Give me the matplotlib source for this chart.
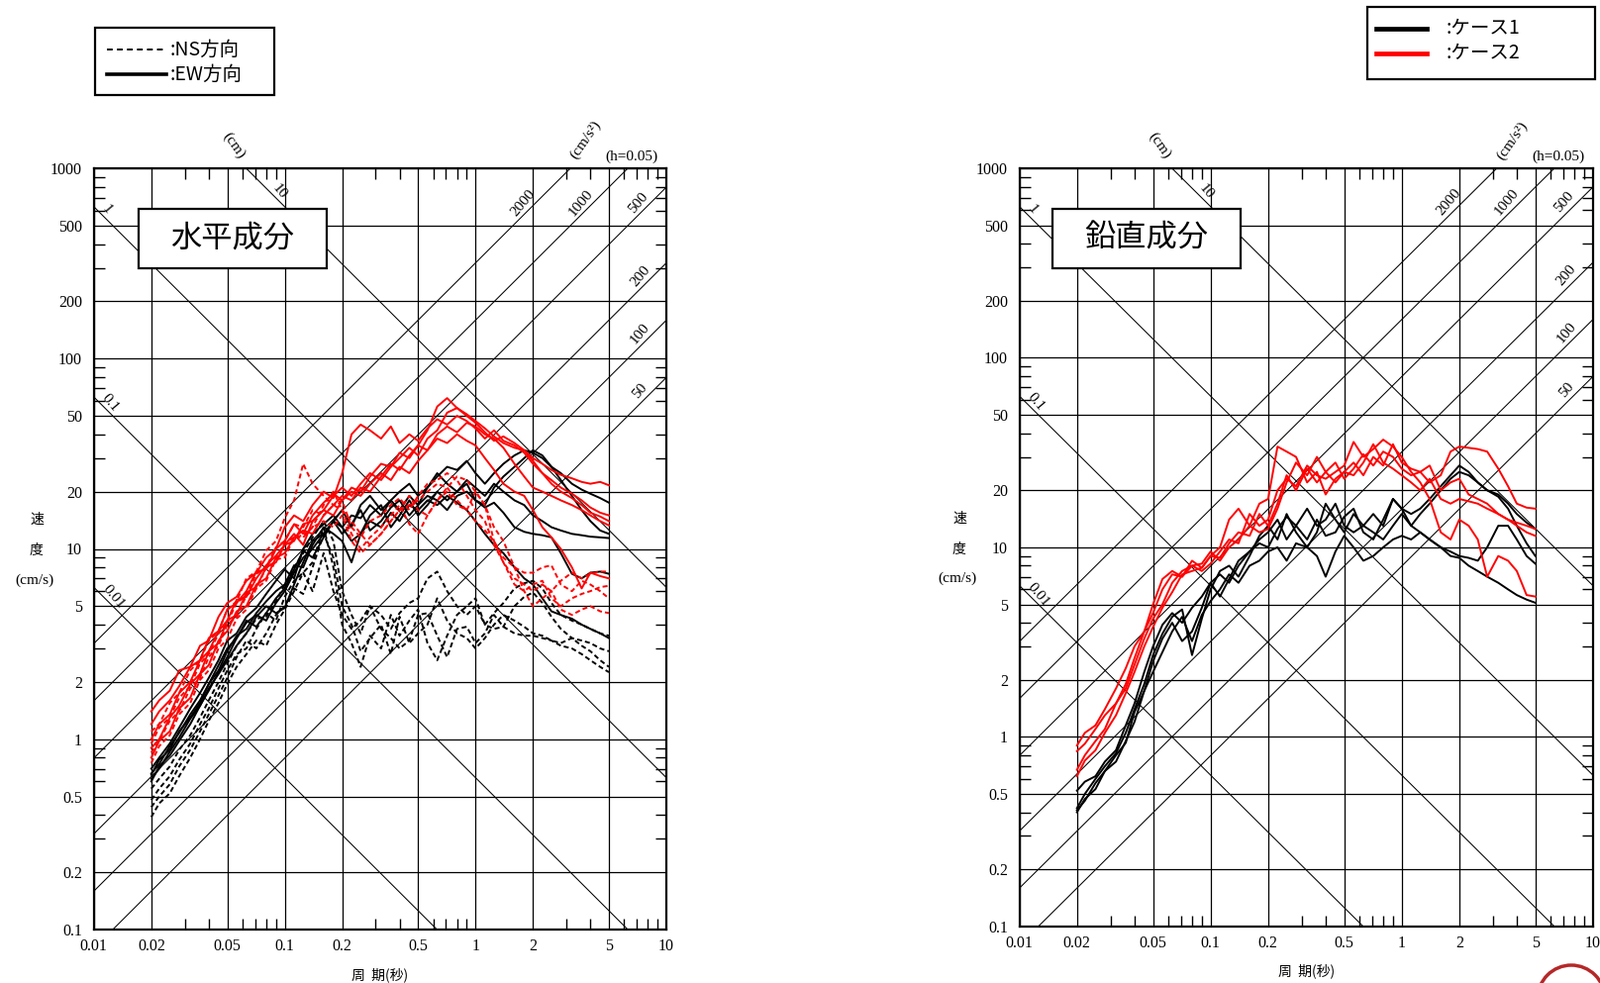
import numpy as np
import matplotlib.pyplot as plt
from matplotlib.patches import Rectangle, Ellipse
from matplotlib.lines import Line2D
from matplotlib.ticker import NullFormatter

plt.rcParams['font.family'] = ['Liberation Serif', 'Noto Sans CJK JP']
SANS = ['Noto Sans CJK JP', 'DejaVu Sans']

# periods (s)
periods = [0.02, 0.022, 0.025, 0.028, 0.032, 0.036, 0.04, 0.045, 0.05, 0.056,
           0.063, 0.071, 0.08, 0.09, 0.1, 0.112, 0.125, 0.14, 0.16, 0.18,
           0.2, 0.224, 0.25, 0.28, 0.32, 0.36, 0.4, 0.45, 0.5, 0.56,
           0.63, 0.71, 0.8, 0.9, 1.0, 1.12, 1.25, 1.4, 1.6, 1.8,
           2.0, 2.24, 2.5, 2.8, 3.2, 3.6, 4.0, 4.5, 5.0]

# 水平成分 ケース2 EW (red solid)
h_case2_ew = [
    [1.40, 1.60, 1.80, 2.30, 2.40, 3.10, 3.30, 4.40, 5.20, 5.60,
     6.80, 7.50, 9.00, 10.0, 13.0, 15.0, 14.0, 17.0, 20.0, 18.5,
     25.0, 40.0, 45.0, 42.0, 38.0, 44.0, 36.0, 40.0, 37.0, 43.0,
     48.0, 45.0, 50.0, 47.0, 43.0, 38.0, 42.0, 37.0, 35.0, 32.0,
     28.0, 25.0, 22.0, 20.0, 18.5, 17.0, 15.5, 14.8, 14.0],
    [1.20, 1.40, 1.60, 1.90, 2.40, 2.60, 3.40, 3.70, 4.80, 5.20,
     6.00, 7.60, 7.80, 10.0, 11.0, 13.5, 12.0, 15.0, 17.5, 19.5,
     18.0, 21.0, 20.0, 24.0, 28.0, 27.0, 32.0, 30.0, 35.0, 42.0,
     56.0, 62.0, 55.0, 51.0, 47.0, 43.0, 39.0, 36.0, 34.0, 33.0,
     30.0, 28.0, 26.0, 24.5, 23.5, 22.5, 22.0, 22.5, 21.6],
    [1.00, 1.20, 1.35, 1.75, 2.00, 2.60, 2.90, 3.70, 4.20, 5.40,
     5.60, 7.00, 8.20, 9.20, 10.5, 11.0, 13.5, 14.0, 16.0, 19.0,
     21.0, 19.0, 22.0, 25.0, 23.0, 27.0, 30.0, 34.0, 31.0, 38.0,
     42.0, 52.0, 55.0, 50.0, 46.0, 41.0, 37.0, 39.0, 36.0, 33.0,
     29.0, 25.0, 23.0, 21.0, 19.5, 18.0, 16.5, 15.5, 15.0],
    [0.90, 1.00, 1.30, 1.50, 1.95, 2.20, 2.90, 3.20, 4.20, 4.50,
     5.90, 6.30, 8.00, 8.50, 10.5, 12.0, 10.5, 14.0, 16.0, 15.0,
     18.0, 20.0, 19.0, 22.0, 25.0, 23.0, 27.0, 25.0, 29.0, 33.0,
     38.0, 36.0, 40.0, 37.0, 35.0, 30.0, 26.0, 22.0, 20.0, 19.0,
     16.0, 13.0, 11.5, 10.0, 8.0, 6.2, 7.5, 7.2, 7.0],
    [0.80, 0.98, 1.10, 1.45, 1.65, 2.20, 2.45, 3.30, 3.70, 4.70,
     5.00, 6.50, 7.00, 9.00, 9.50, 11.5, 12.5, 12.0, 15.0, 17.0,
     19.0, 18.0, 21.0, 20.0, 24.0, 28.0, 26.0, 31.0, 35.0, 33.0,
     40.0, 44.0, 41.0, 46.0, 44.0, 40.0, 38.0, 34.0, 28.0, 24.0,
     21.0, 20.0, 19.0, 18.0, 17.0, 16.0, 15.0, 14.0, 13.3],
]

# 水平成分 ケース2 NS (red dashed)
h_case2_ns = [
    [1.10, 1.20, 1.55, 1.75, 2.30, 2.60, 3.30, 3.70, 4.80, 5.30,
     7.00, 7.60, 9.80, 11.0, 14.5, 18.0, 28.0, 22.0, 19.0, 17.0,
     18.0, 13.0, 11.5, 14.0, 15.0, 17.0, 18.5, 16.0, 19.0, 22.0,
     23.0, 25.0, 23.0, 19.0, 16.0, 14.0, 10.5, 8.5, 7.0, 6.5,
     6.0, 6.5, 6.0, 6.8, 7.5, 7.0, 7.4, 7.6, 7.6],
    [0.95, 1.15, 1.30, 1.65, 1.90, 2.50, 2.80, 3.60, 4.10, 5.20,
     5.70, 7.40, 8.00, 10.2, 11.0, 13.5, 13.0, 16.0, 15.0, 17.0,
     16.0, 12.0, 10.0, 11.5, 13.0, 15.0, 17.0, 13.5, 12.0, 15.0,
     18.0, 21.0, 24.0, 23.0, 20.0, 17.0, 11.0, 8.5, 6.5, 6.0,
     6.5, 6.8, 5.5, 5.0, 5.5, 5.8, 6.0, 6.3, 6.4],
    [0.85, 0.98, 1.25, 1.40, 1.85, 2.10, 2.70, 3.10, 4.00, 4.40,
     5.70, 6.20, 8.00, 8.60, 10.8, 11.5, 11.8, 13.0, 17.0, 20.0,
     16.0, 14.0, 12.0, 10.5, 12.0, 14.0, 16.0, 19.0, 16.0, 15.0,
     18.0, 20.0, 17.0, 16.0, 20.0, 17.0, 13.0, 11.0, 8.0, 6.0,
     5.0, 5.5, 6.0, 4.8, 4.5, 4.8, 5.0, 4.7, 4.6],
    [0.75, 0.92, 1.05, 1.35, 1.55, 2.05, 2.30, 3.00, 3.35, 4.30,
     4.80, 6.20, 6.80, 8.80, 9.00, 11.5, 11.5, 13.0, 14.0, 13.0,
     15.0, 11.0, 9.5, 10.5, 12.0, 14.0, 16.0, 17.0, 18.0, 20.0,
     22.0, 21.0, 18.0, 16.0, 14.0, 12.5, 11.0, 9.0, 8.0, 7.5,
     7.5, 8.0, 8.2, 6.5, 6.0, 6.8, 6.5, 6.0, 5.5],
]

# 水平成分 ケース1 EW (black solid)
h_case1_ew = [
    [0.70, 0.80, 0.95, 1.15, 1.45, 1.75, 2.10, 2.60, 3.30, 3.60,
     4.40, 4.90, 5.80, 6.80, 7.80, 7.00, 10.0, 12.0, 13.5, 15.0,
     13.0, 15.0, 14.5, 17.0, 15.0, 18.0, 16.0, 19.0, 17.0, 21.0,
     24.0, 27.0, 26.0, 29.0, 25.0, 22.0, 25.0, 28.0, 31.0, 33.0,
     32.0, 30.0, 27.0, 25.0, 22.0, 20.5, 19.5, 18.5, 17.5],
    [0.65, 0.78, 0.88, 1.10, 1.30, 1.55, 1.95, 2.30, 2.90, 3.50,
     3.80, 4.60, 5.30, 6.00, 6.50, 8.20, 8.00, 10.5, 13.0, 12.0,
     11.0, 8.5, 12.0, 15.0, 17.0, 13.0, 15.0, 18.0, 15.0, 17.0,
     20.0, 18.0, 20.0, 22.0, 18.0, 17.0, 21.0, 24.0, 27.0, 30.0,
     33.0, 31.0, 27.0, 23.0, 19.0, 16.0, 14.0, 12.5, 12.0],
    [0.62, 0.70, 0.86, 1.02, 1.28, 1.50, 1.80, 2.25, 2.70, 3.40,
     4.10, 4.50, 4.20, 5.20, 6.00, 7.50, 9.00, 10.0, 12.0, 14.0,
     16.0, 13.0, 17.0, 19.0, 16.0, 18.0, 20.0, 22.0, 19.0, 21.0,
     25.0, 22.0, 20.0, 23.0, 21.0, 19.0, 22.0, 20.0, 18.0, 17.0,
     15.0, 14.0, 13.0, 12.5, 12.0, 11.8, 11.6, 11.5, 11.4],
    [0.60, 0.72, 0.82, 0.98, 1.20, 1.50, 1.85, 2.20, 2.60, 3.10,
     3.60, 4.40, 5.00, 4.60, 4.90, 6.50, 8.50, 11.0, 12.0, 14.0,
     12.0, 13.5, 16.0, 12.5, 14.0, 16.5, 18.0, 15.0, 17.0, 19.0,
     18.0, 16.0, 19.0, 20.0, 18.0, 16.5, 17.5, 15.5, 13.0, 12.3,
     12.0, 11.8, 11.5, 9.5, 7.4, 7.0, 7.5, 7.6, 7.4],
    [0.66, 0.74, 0.92, 1.08, 1.35, 1.60, 1.95, 2.45, 3.00, 3.40,
     4.20, 3.90, 4.60, 5.50, 6.20, 7.80, 9.80, 9.00, 11.5, 14.0,
     13.0, 11.0, 12.0, 14.0, 13.0, 15.5, 14.0, 17.0, 16.0, 18.0,
     17.0, 19.0, 17.5, 16.0, 14.0, 12.0, 10.5, 9.5, 8.0, 7.0,
     6.5, 5.5, 4.7, 4.5, 4.3, 4.0, 3.8, 3.6, 3.4],
]

# 水平成分 ケース1 NS (black dashed)
h_case1_ns = [
    [0.55, 0.62, 0.72, 0.88, 1.05, 1.30, 1.60, 2.00, 2.50, 3.10,
     3.60, 4.30, 4.40, 5.30, 6.50, 8.00, 9.50, 11.5, 14.0, 11.0,
     6.0, 4.5, 3.6, 5.0, 4.5, 3.8, 4.6, 5.2, 5.5, 7.0,
     7.6, 6.0, 5.0, 4.5, 5.0, 4.0, 4.6, 5.2, 6.2, 6.6,
     6.8, 6.2, 5.2, 4.5, 4.2, 4.0, 3.8, 3.6, 3.5],
    [0.48, 0.55, 0.64, 0.78, 0.95, 1.20, 1.45, 1.85, 2.30, 2.80,
     3.00, 3.80, 4.60, 4.20, 5.60, 6.80, 7.50, 8.50, 13.0, 8.0,
     4.0, 3.2, 2.4, 3.5, 3.0, 4.5, 3.5, 4.2, 4.8, 3.2,
     2.6, 3.5, 4.5, 5.0, 5.5, 4.0, 3.8, 3.9, 5.0, 5.6,
     5.9, 5.2, 4.4, 3.8, 3.4, 3.3, 3.2, 3.0, 2.9],
    [0.44, 0.50, 0.58, 0.72, 0.88, 1.10, 1.35, 1.70, 2.10, 2.70,
     3.30, 3.00, 3.60, 4.50, 5.00, 6.20, 5.80, 8.00, 12.0, 9.0,
     5.0, 4.0, 2.9, 3.4, 4.0, 2.8, 4.4, 3.2, 3.6, 4.0,
     5.5, 4.2, 3.6, 3.4, 3.0, 3.4, 4.0, 4.5, 4.2, 3.9,
     3.6, 3.5, 3.3, 3.2, 3.4, 3.1, 2.9, 2.6, 2.4],
    [0.39, 0.46, 0.52, 0.64, 0.80, 1.00, 1.25, 1.55, 1.95, 2.40,
     2.80, 3.30, 3.10, 4.00, 4.80, 6.00, 7.50, 6.00, 9.50, 6.0,
     4.5, 3.8, 4.2, 5.0, 3.8, 3.4, 3.0, 3.3, 4.5, 4.6,
     3.5, 2.7, 3.8, 3.9, 3.2, 3.6, 4.5, 3.9, 3.6, 3.5,
     3.5, 3.4, 3.3, 3.1, 3.0, 2.8, 2.6, 2.4, 2.25],
]

# 鉛直成分 ケース2 (red)
v_case2 = [
    [0.90, 1.05, 1.15, 1.40, 1.80, 2.30, 3.00, 3.60, 5.00, 6.80,
     7.50, 7.00, 8.50, 7.80, 9.00, 10.0, 14.0, 16.0, 13.0, 17.0,
     18.0, 34.0, 32.0, 30.0, 22.0, 25.0, 19.0, 23.0, 25.0, 28.0,
     24.0, 30.0, 27.0, 35.0, 28.0, 26.0, 25.0, 22.0, 24.0, 32.0,
     34.0, 33.5, 33.0, 32.0, 26.0, 21.0, 17.0, 16.2, 16.0],
    [0.84, 0.92, 1.10, 1.30, 1.50, 1.90, 2.60, 3.60, 4.50, 6.00,
     7.20, 7.00, 8.00, 8.20, 9.50, 8.50, 10.0, 11.0, 13.0, 12.0,
     12.5, 16.0, 22.0, 28.0, 24.0, 30.0, 25.0, 28.0, 23.0, 26.0,
     31.0, 27.0, 32.0, 30.0, 26.0, 24.0, 25.0, 27.0, 20.0, 22.0,
     23.0, 19.0, 18.0, 17.0, 15.0, 14.0, 13.0, 12.0, 11.5],
    [0.67, 0.80, 0.95, 1.10, 1.50, 1.80, 2.40, 3.30, 4.20, 5.00,
     6.50, 7.50, 8.00, 7.50, 8.20, 9.50, 11.0, 10.5, 15.0, 13.0,
     14.0, 20.0, 23.0, 21.0, 27.0, 24.0, 23.0, 25.0, 27.0, 36.0,
     30.0, 33.0, 37.0, 34.0, 30.0, 25.0, 22.0, 18.0, 12.0, 11.0,
     14.0, 13.0, 11.0, 7.0, 9.0, 8.5, 7.5, 5.6, 5.5],
    [0.62, 0.75, 0.85, 1.05, 1.30, 1.70, 2.20, 3.00, 3.80, 4.80,
     5.80, 7.20, 7.50, 7.80, 9.00, 8.80, 10.5, 12.0, 11.5, 15.0,
     13.0, 17.0, 24.0, 20.0, 26.0, 22.0, 25.0, 22.0, 25.0, 24.0,
     28.0, 35.0, 28.0, 26.0, 24.0, 22.0, 20.0, 23.0, 18.0, 17.0,
     18.0, 17.5, 17.0, 16.0, 15.0, 14.0, 13.5, 13.0, 12.5],
]

# 鉛直成分 ケース1 (black)
v_case1 = [
    [0.52, 0.58, 0.62, 0.74, 0.85, 1.15, 1.50, 2.20, 3.00, 3.90,
     4.50, 4.00, 4.80, 5.50, 6.50, 7.20, 6.50, 8.00, 9.50, 11.0,
     12.0, 14.0, 11.0, 13.0, 16.0, 13.0, 14.0, 17.0, 13.0, 12.0,
     13.0, 15.0, 13.0, 18.0, 16.0, 15.0, 16.0, 18.0, 21.0, 24.0,
     27.0, 25.0, 22.0, 20.0, 19.0, 17.0, 15.0, 13.5, 12.5],
    [0.42, 0.50, 0.60, 0.70, 0.82, 1.05, 1.40, 1.90, 2.70, 3.50,
     4.30, 4.70, 2.70, 4.20, 6.00, 7.50, 8.00, 7.00, 9.00, 11.5,
     13.0, 11.0, 15.0, 12.0, 10.0, 12.0, 17.0, 14.0, 12.0, 15.0,
     13.0, 12.0, 11.0, 13.0, 15.0, 13.0, 15.0, 17.0, 20.0, 23.0,
     25.0, 24.0, 22.0, 20.0, 18.5, 16.0, 13.0, 10.5, 9.0],
    [0.41, 0.46, 0.57, 0.66, 0.80, 0.93, 1.35, 1.75, 2.50, 3.30,
     4.00, 3.20, 3.60, 4.80, 6.50, 5.50, 6.80, 8.50, 9.50, 10.5,
     10.0, 12.5, 14.5, 13.0, 11.0, 14.0, 11.5, 12.0, 14.5, 16.0,
     12.0, 11.0, 14.0, 18.0, 16.0, 13.0, 12.0, 11.0, 10.0, 9.5,
     9.0, 8.8, 8.5, 10.0, 13.0, 13.0, 11.0, 9.0, 8.2],
    [0.40, 0.47, 0.53, 0.66, 0.74, 0.95, 1.20, 1.75, 2.20, 2.80,
     3.60, 4.30, 3.20, 4.40, 5.20, 6.00, 7.20, 6.50, 8.00, 8.50,
     9.50, 10.0, 8.5, 10.5, 10.0, 9.0, 7.0, 9.5, 11.5, 10.0,
     8.5, 9.0, 10.0, 11.0, 11.5, 11.0, 12.0, 11.0, 10.0, 9.0,
     8.8, 8.0, 7.5, 7.0, 6.5, 6.0, 5.6, 5.3, 5.1],
]

x_major = [0.01, 0.02, 0.05, 0.1, 0.2, 0.5, 1, 2, 5, 10]
x_labels = ['0.01', '0.02', '0.05', '0.1', '0.2', '0.5', '1', '2', '5', '10']
x_minor = [0.03, 0.04, 0.06, 0.07, 0.08, 0.09, 0.3, 0.4, 0.6, 0.7, 0.8, 0.9,
           3, 4, 6, 7, 8, 9]
y_major = [0.1, 0.2, 0.5, 1, 2, 5, 10, 20, 50, 100, 200, 500, 1000]
y_labels = ['0.1', '0.2', '0.5', '1', '2', '5', '10', '20', '50', '100', '200', '500', '1000']
y_minor = [0.3, 0.4, 0.6, 0.7, 0.8, 0.9, 3, 4, 6, 7, 8, 9, 30, 40, 60, 70, 80, 90,
           300, 400, 600, 700, 800, 900]

disp_values = [0.01, 0.1, 1, 10]          # cm
disp_label_T = [0.01245, 0.012, 0.0115, 0.0933]
acc_values = [50, 100, 200, 500, 1000, 2000]   # cm/s2

W, H = 1616, 993
fig = plt.figure(figsize=(W / 100, H / 100), dpi=100)


def fx(px):
    return px / W


def fy(py):
    return 1 - py / H


def spectrum_frame(ax, title, box_px):
    ax.set_xscale('log')
    ax.set_yscale('log')
    ax.set_xlim(0.01, 10)
    ax.set_ylim(0.1, 1000)
    ax.set_xticks(x_major, x_labels)
    ax.set_yticks(y_major, y_labels)
    ax.set_xticks(x_minor, minor=True)
    ax.set_yticks(y_minor, minor=True)
    ax.xaxis.set_minor_formatter(NullFormatter())
    ax.yaxis.set_minor_formatter(NullFormatter())
    ax.tick_params(which='major', length=0, labelsize=11.5)
    ax.tick_params(axis='x', which='major', pad=6.5)
    ax.tick_params(axis='y', which='major', pad=8.5)
    ax.tick_params(which='minor', direction='in', length=8, width=1,
                   top=True, right=True)
    ax.grid(True, which='major', color='black', lw=0.9)
    for s in ax.spines.values():
        s.set_linewidth(1.6)

    T = np.logspace(-2, 1, 60)
    for d, tl in zip(disp_values, disp_label_T):
        ax.plot(T, 2 * np.pi * d / T, color='black', lw=0.75, zorder=1.5)
        ax.annotate(f'{d:g}', xy=(tl, 2 * np.pi * d / tl), xytext=(1, 9),
                    textcoords='offset pixels', rotation=-50, fontsize=11,
                    ha='center', va='center')
    for a in acc_values:
        ax.plot(T, a * T / (2 * np.pi), color='black', lw=0.75, zorder=1.5)
        tl = 2 * np.pi * 565 / a if a >= 500 else 7.3
        ax.annotate(f'{a:g}', xy=(tl, a * tl / (2 * np.pi)), xytext=(0, 13),
                    textcoords='offset pixels', rotation=50, fontsize=11,
                    ha='center', va='center')

    ax.text(0.245, 1.030, '(cm)', transform=ax.transAxes, rotation=-55,
            fontsize=11, ha='center', va='center')
    ax.text(0.859, 1.037, '(cm/s²)', transform=ax.transAxes, rotation=55,
            fontsize=11, ha='center', va='center')
    ax.text(0.939, 1.015, '(h=0.05)', transform=ax.transAxes,
            fontsize=11, ha='center', va='center')

    x0, y0, x1, y1 = box_px
    ax.add_patch(Rectangle((fx(x0), fy(y1)), fx(x1) - fx(x0), fy(y0) - fy(y1),
                           transform=fig.transFigure, fc='white', ec='black',
                           lw=1.6, zorder=6, clip_on=False))
    ax.text(fx((x0 + x1) / 2), fy((y0 + y1) / 2), title, transform=fig.transFigure,
            family=SANS, fontsize=22.5, ha='center', va='center', zorder=7)


dash = (0, (2.6, 1.6))

axL = fig.add_axes([fx(94.8), fy(939), fx(673) - fx(94.8), fy(170) - fy(939)])
spectrum_frame(axL, '水平成分', (140, 211, 330, 271))
for v in h_case1_ns:
    axL.plot(periods, v, color='black', lw=1.4, ls=dash, zorder=3)
for v in h_case1_ew:
    axL.plot(periods, v, color='black', lw=1.4, zorder=3)
for v in h_case2_ns:
    axL.plot(periods, v, color='#ff0000', lw=1.4, ls=dash, zorder=3)
for v in h_case2_ew:
    axL.plot(periods, v, color='#ff0000', lw=1.4, zorder=3)

axR = fig.add_axes([fx(1029.6), fy(935.8), fx(1608.8) - fx(1029.6), fy(170) - fy(935.8)])
spectrum_frame(axR, '鉛直成分', (1063, 211, 1253, 271))
for v in v_case1:
    axR.plot(periods, v, color='black', lw=1.4, zorder=3)
for v in v_case2:
    axR.plot(periods, v, color='#ff0000', lw=1.4, zorder=3)

# axis labels
for xc, yl in [(37, (525, 556, 586)), (969, (524, 555, 584))]:
    fig.text(fx(xc), fy(yl[0]), '速', family=SANS, fontsize=10, ha='center', va='center')
    fig.text(fx(xc), fy(yl[1]), '度', family=SANS, fontsize=10, ha='center', va='center')
    fig.text(fx(xc - 2), fy(yl[2]), '(cm/s)', fontsize=11, ha='center', va='center')
fig.text(fx(384), fy(985), '周  期(秒)', family=SANS, fontsize=10, ha='center', va='center')
fig.text(fx(1320), fy(981), '周  期(秒)', family=SANS, fontsize=10, ha='center', va='center')

# legend: direction
fig.add_artist(Rectangle((fx(96), fy(96)), fx(277) - fx(96), fy(28) - fy(96),
                         transform=fig.transFigure, fill=False, ec='black', lw=1.6))
fig.add_artist(Line2D([fx(108), fx(168)], [fy(50), fy(50)], color='black', lw=1.4,
                      ls=(0, (3, 2.2))))
fig.add_artist(Line2D([fx(108), fx(168)], [fy(75), fy(75)], color='black', lw=2.6))
fig.text(fx(172), fy(50), ':NS方向', family=SANS, fontsize=14, ha='left', va='center')
fig.text(fx(172), fy(75), ':EW方向', family=SANS, fontsize=14, ha='left', va='center')

# legend: case
fig.add_artist(Rectangle((fx(1381), fy(80)), fx(1611) - fx(1381), fy(7) - fy(80),
                         transform=fig.transFigure, fill=False, ec='black', lw=1.6))
fig.add_artist(Line2D([fx(1390), fx(1441)], [fy(28.5), fy(28.5)], color='black', lw=3.4))
fig.add_artist(Line2D([fx(1390), fx(1441)], [fy(53.5), fy(53.5)], color='#ff0000', lw=3.4))
fig.text(fx(1461), fy(28.5), ':ケース1', family=SANS, fontsize=14, ha='left', va='center')
fig.text(fx(1461), fy(53.5), ':ケース2', family=SANS, fontsize=14, ha='left', va='center')

# stamp partly outside the page
fig.add_artist(Ellipse((fx(1587), fy(1009)), 68 / W, 68 / H, transform=fig.transFigure,
                       fill=False, ec='#b52828', lw=2.5))

fig.savefig('out.png', dpi=100)
